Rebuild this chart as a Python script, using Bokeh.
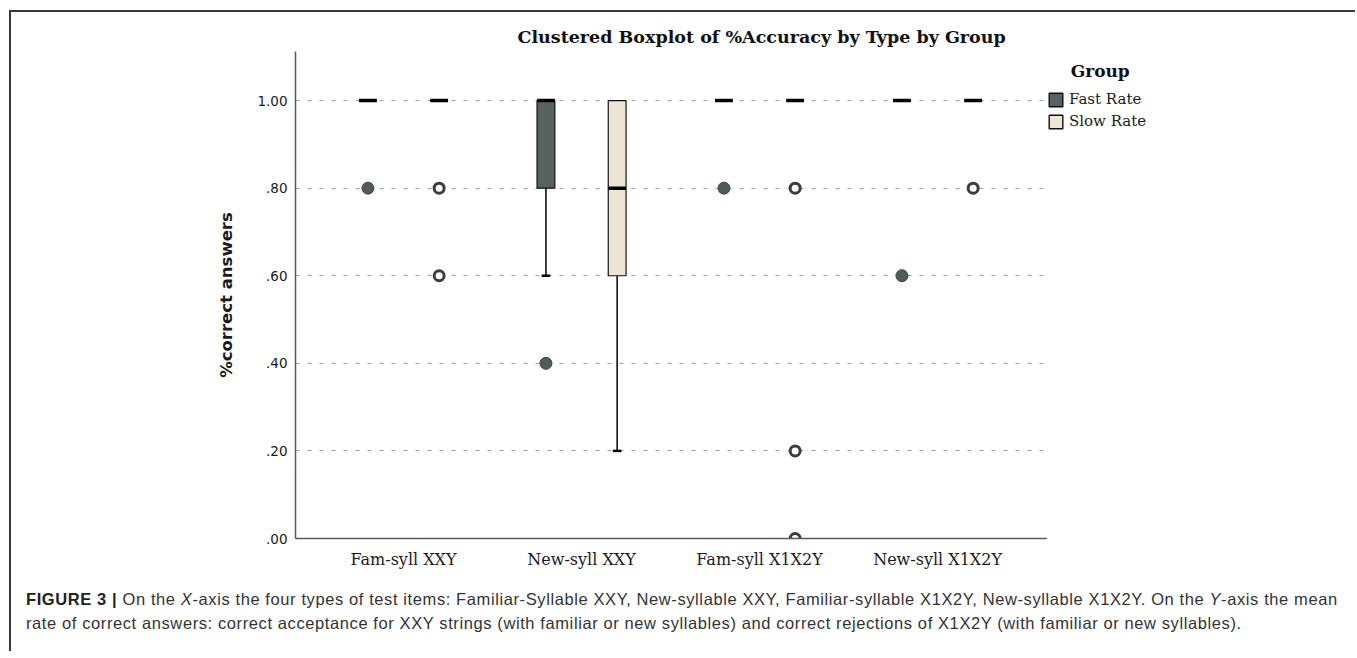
from bokeh.plotting import figure
from bokeh.layouts import column, row
from bokeh.models import Range1d, FixedTicker, Legend, LegendItem, ColumnDataSource, Div
from bokeh.embed import file_html
from bokeh.resources import INLINE

# ---------------- data ----------------
categories = ["Fam-syll XXY", "New-syll XXY", "Fam-syll X1X2Y", "New-syll X1X2Y"]
groups = ["Fast Rate", "Slow Rate"]
legend_title = "Group"

fast_low = [1.00, 0.60, 1.00, 1.00]
fast_q1 = [1.00, 0.80, 1.00, 1.00]
fast_median = [1.00, 1.00, 1.00, 1.00]
fast_q3 = [1.00, 1.00, 1.00, 1.00]
fast_high = [1.00, 1.00, 1.00, 1.00]

slow_low = [1.00, 0.20, 1.00, 1.00]
slow_q1 = [1.00, 0.60, 1.00, 1.00]
slow_median = [1.00, 0.80, 1.00, 1.00]
slow_q3 = [1.00, 1.00, 1.00, 1.00]
slow_high = [1.00, 1.00, 1.00, 1.00]

fast_outlier_cat = [0, 1, 2, 3]
fast_outlier_val = [0.80, 0.40, 0.80, 0.60]
slow_outlier_cat = [0, 0, 2, 2, 2, 3]
slow_outlier_val = [0.80, 0.60, 0.80, 0.20, 0.00, 0.80]

y_ticks = [0.0, 0.2, 0.4, 0.6, 0.8, 1.0]
y_tick_labels = [".00", ".20", ".40", ".60", ".80", "1.00"]

title_text = "Clustered Boxplot of %Accuracy by Type by Group"
y_label = "%correct answers"
caption_html = (
    "<b style='color:#222'>FIGURE 3 |</b> On the <i>X</i>-axis the four types of test items: "
    "Familiar-Syllable XXY, New-syllable XXY, Familiar-syllable X1X2Y, New-syllable X1X2Y. "
    "On the <i>Y</i>-axis the mean<br>"
    "rate of correct answers: correct acceptance for XXY strings (with familiar or new syllables) "
    "and correct rejections of X1X2Y (with familiar or new syllables)."
)

# ---------------- style ----------------
FAST_FILL = "#58635f"
SLOW_FILL = "#ede6d3"
SERIF = "DejaVu Serif"
SANS = "DejaVu Sans"
OFFSET = 0.2
BOX_W = 0.1

TOTAL_W, H = 1344, 563
W = 1035
BORDER_TOP, BORDER_BOTTOM = 39, H - 526
p = figure(width=W, height=H, output_backend="svg", toolbar_location=None,
           x_range=Range1d(-0.607, 3.612), y_range=Range1d(0, 1.112),
           min_border_left=284, min_border_right=0,
           min_border_top=BORDER_TOP, min_border_bottom=BORDER_BOTTOM)
p.outline_line_color = None
p.background_fill_color = "white"
p.border_fill_color = "white"

# title
p.title.text = title_text
p.title.align = "left"
p.title.offset = 222
p.title.text_font = SERIF
p.title.text_font_style = "bold"
p.title.text_font_size = "17.5px"
p.title.text_color = "#111111"
p.title.standoff = 10

# grid
p.xgrid.grid_line_color = None
p.ygrid.ticker = FixedTicker(ticks=[t for t in y_ticks if t > 0])
p.ygrid.grid_line_color = "#a0a0a0"
p.ygrid.grid_line_dash = "4 8"
p.ygrid.grid_line_width = 1

# axes
p.xaxis.ticker = FixedTicker(ticks=list(range(len(categories))))
p.xaxis.major_label_overrides = {i: c for i, c in enumerate(categories)}
p.yaxis.ticker = FixedTicker(ticks=y_ticks)
p.yaxis.major_label_overrides = {t: l for t, l in zip(y_ticks, y_tick_labels)}
for ax in (p.xaxis[0], p.yaxis[0]):
    ax.axis_line_color = "#5a5a5a"
    ax.axis_line_width = 1.5
    ax.major_tick_line_color = None
    ax.minor_tick_line_color = None
    ax.major_tick_out = 0
    ax.major_tick_in = 0
p.xaxis.major_label_text_font = SERIF
p.xaxis.major_label_text_font_size = "16px"
p.xaxis.major_label_text_color = "#1a1a1a"
p.xaxis.major_label_standoff = 11
p.yaxis.major_label_text_font = SANS
p.yaxis.major_label_text_font_size = "13.5px"
p.yaxis.major_label_text_color = "#1a1a1a"
p.yaxis.major_label_standoff = 8
p.yaxis.axis_label = y_label
p.yaxis.axis_label_text_font = SANS
p.yaxis.axis_label_text_font_style = "bold"
p.yaxis.axis_label_text_font_size = "16.5px"
p.yaxis.axis_label_text_color = "#1a1a1a"
p.yaxis.axis_label_standoff = 18


def draw_group(off, low, q1, med, q3, high, fill, out_cat, out_val, hollow):
    xs = [i + off for i in range(len(categories))]
    wx, wy0, wy1, cx0, cx1, cy = [], [], [], [], [], []
    for x, lo, a, b, hi in zip(xs, low, q1, q3, high):
        if lo < a:
            wx.append(x); wy0.append(a); wy1.append(lo)
            cx0.append(x - 0.024); cx1.append(x + 0.024); cy.append(lo)
        if hi > b:
            wx.append(x); wy0.append(b); wy1.append(hi)
            cx0.append(x - 0.024); cx1.append(x + 0.024); cy.append(hi)
    p.segment(x0=wx, y0=wy0, x1=wx, y1=wy1, line_color="black", line_width=1.5)
    p.segment(x0=cx0, y0=cy, x1=cx1, y1=cy, line_color="black", line_width=2.5)
    src = ColumnDataSource(dict(x=xs, bottom=q1, top=q3))
    p.vbar(x="x", width=BOX_W, bottom="bottom", top="top", source=src,
           fill_color=fill, line_color="#111111", line_width=1.2)
    p.segment(x0=[x - BOX_W / 2 for x in xs], x1=[x + BOX_W / 2 for x in xs],
              y0=med, y1=med, line_color="black", line_width=3.5)
    ox = [c + off for c in out_cat]
    if hollow:
        p.scatter(ox, out_val, size=10, marker="circle", fill_color="white",
                  line_color="#3c3c3c", line_width=3)
    else:
        p.scatter(ox, out_val, size=12, marker="circle", fill_color="#505b57",
                  line_color="#3f4845", line_width=1)


draw_group(-OFFSET, fast_low, fast_q1, fast_median, fast_q3, fast_high,
           FAST_FILL, fast_outlier_cat, fast_outlier_val, False)
draw_group(OFFSET, slow_low, slow_q1, slow_median, slow_q3, slow_high,
           SLOW_FILL, slow_outlier_cat, slow_outlier_val, True)

# ---------------- legend panel (separate canvas to the right) ----------------
LW = TOTAL_W - W
lg = figure(width=LW, height=H, output_backend="svg", toolbar_location=None,
            x_range=Range1d(0, 1), y_range=Range1d(0, 1),
            min_border_left=0, min_border_right=0,
            min_border_top=BORDER_TOP, min_border_bottom=BORDER_BOTTOM)
lg.axis.visible = False
lg.grid.visible = False
lg.outline_line_color = None
lg.border_fill_color = "white"
lg.background_fill_color = "white"
# key swatches: one off-canvas bar per group, only used for the legend glyphs
key_src = ColumnDataSource(dict(x=[-5.0, -5.0], bottom=[-5.0, -5.0], top=[-4.0, -4.0],
                                fill=[FAST_FILL, SLOW_FILL]))
key = lg.vbar(x="x", width=0.1, bottom="bottom", top="top", source=key_src,
              fill_color="fill", line_color="#111111", line_width=1.4)
legend = Legend(items=[LegendItem(label=groups[0], renderers=[key], index=0),
                       LegendItem(label=groups[1], renderers=[key], index=1)],
                location=(1, 408), padding=0, margin=0, spacing=4,
                title="\u00a0\u00a0\u00a0\u00a0" + legend_title,
                title_text_font=SERIF, title_text_font_style="bold",
                title_text_font_size="17px", title_text_color="#111111",
                title_standoff=9,
                glyph_width=17, glyph_height=17, label_height=17, label_standoff=5,
                label_text_font=SERIF, label_text_font_size="15px",
                label_text_color="#1a1a1a",
                border_line_color=None, background_fill_alpha=0)
lg.add_layout(legend)

caption = Div(text=caption_html, width=TOTAL_W - 20,
              styles={"font-family": "Liberation Sans, Arial, sans-serif",
                      "font-size": "16.5px", "letter-spacing": "0.6px",
                      "line-height": "24px", "color": "#333333",
                      "white-space": "nowrap", "padding-left": "15px",
                      "padding-top": "12px", "padding-bottom": "16px", "margin": "0"})

layout = column(row(p, lg, spacing=0), caption, spacing=0,
                styles={"border-left": "2px solid #3a3a3a", "border-top": "2px solid #3a3a3a",
                        "margin-left": "9px", "margin-top": "10px", "background": "white"})

open("out.html", "w").write(file_html(layout, INLINE))
